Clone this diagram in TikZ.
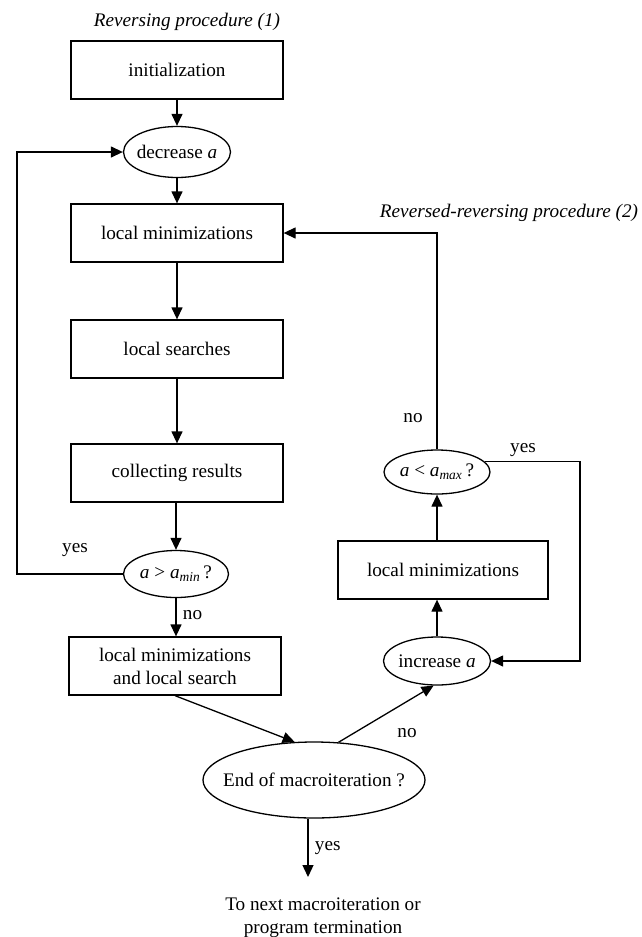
\documentclass[tikz,border=0pt]{standalone}
\usepackage{fontspec}
\setmainfont{Liberation Serif}
\usetikzlibrary{arrows.meta,shapes.geometric}
\newcommand{\dtext}[1]{\makebox[0pt]{#1}}
\tikzset{
  stage/.style={draw,line width=1.3pt,align=center,inner sep=0pt,
                minimum width=212pt,minimum height=58pt},
  decision/.style={ellipse,draw,line width=1.3pt,align=center,inner sep=0pt},
  fl/.style={-{Triangle[length=12pt,width=11pt]},line width=1.3pt},
  note/.style={align=center},
  title/.style={font=\fontsize{19.2}{23}\selectfont\itshape}
}
\begin{document}
\begin{tikzpicture}[x=1pt,y=-1pt,font=\fontsize{19.2}{23}\selectfont]
  \useasboundingbox (0,0) rectangle (642,937);
  % reversing procedure (1)
  \node[title] (t1) at (187,22) {Reversing procedure (1)};
  \node[stage] (init) at (177,70) {initialization};
  \node[decision,minimum width=107pt,minimum height=51pt] (dec) at (177,152) {\dtext{decrease \textit{a}}};
  \node[stage] (lmin) at (177,233) {local minimizations};
  \node[stage] (lsr) at (177,349) {local searches};
  \node[stage] (coll) at (177,473) {collecting results};
  \node[decision,minimum width=105pt,minimum height=47pt] (amin) at (176,574)
       {\dtext{\textit{a} > \textit{a}\textsubscript{\textit{min}}\,?}};
  \node[stage] (lmls) at (175,666) {local minimizations\\and local search};
  \node[decision,minimum width=222pt,minimum height=76pt] (endm) at (314,780) {\dtext{End of macroiteration ?}};
  \coordinate (out) at (308,877);
  \node[note] (next) at (323,918) {To next macroiteration or\\program termination};
  % reversed-reversing procedure (2)
  \node[title] (t2) at (509,213) {Reversed-reversing procedure (2)};
  \node[decision,minimum width=107pt,minimum height=48pt] (incr) at (437,661) {\dtext{increase \textit{a}}};
  \node[stage,minimum width=210pt] (lmin2) at (443,570) {local minimizations};
  \node[decision,minimum width=106pt,minimum height=44pt] (amax) at (437,472)
       {\dtext{\textit{a} < \textit{a}\textsubscript{\textit{max}}\,?}};
  % connectors
  \draw[fl] (init) -- (dec);
  \draw[fl] (dec) -- (lmin);
  \draw[fl] (lmin) -- (lsr);
  \draw[fl] (lsr) -- (coll);
  \draw[fl] (coll.south -| amin) -- (amin);
  \draw[fl] (amin) -- node[right=3pt,pos=0.45]{no} (amin |- lmls.north);
  \draw[fl] (amin.west) -- ++(-106,0) |- (dec.west);
  \node (yes1) at (75,550) {yes};
  \draw[fl] (lmls.south) -- (endm.117);
  \draw[fl] (endm.57) -- (incr.262);
  \node (no2) at (407,733) {no};
  \draw[fl] (endm.south -| out) -- node[right=3pt]{yes} (out);
  \draw[fl] (incr.north) -- (incr.north |- lmin2.south);
  \draw[fl] (lmin2.north -| amax) -- (amax.south);
  \draw[fl] (amax.north) |- (lmin.east);
  \node (no3) at (413,418) {no};
  \draw[fl] (amax.12) -- ++(95,0) |- (incr.east);
  \node (yes2) at (523,450) {yes};
\end{tikzpicture}
\end{document}
